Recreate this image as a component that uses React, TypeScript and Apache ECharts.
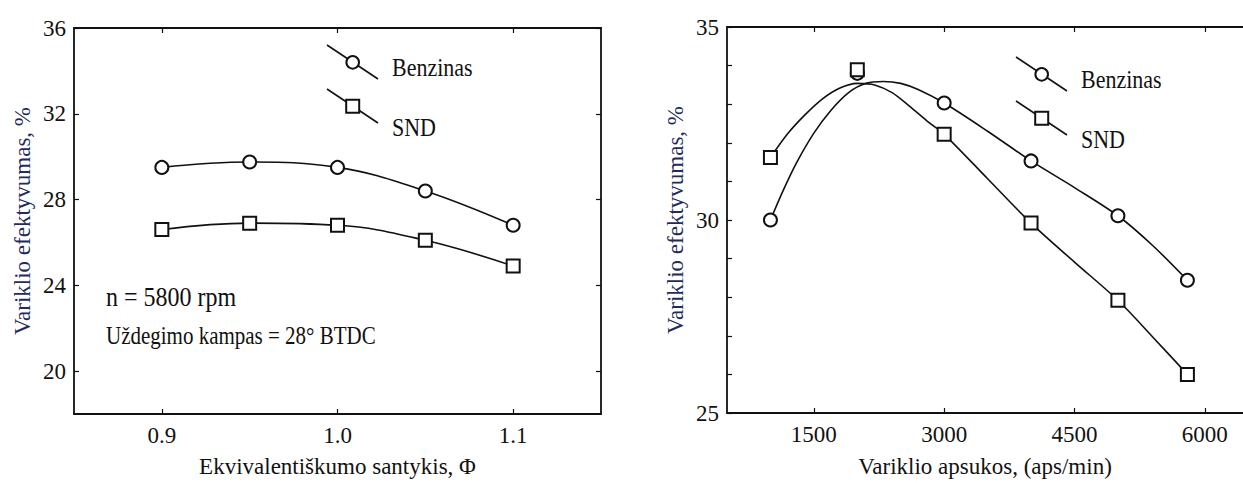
import React, { useEffect, useRef } from "react";
import * as echarts from "echarts";

// ---- Left chart data (equivalence ratio vs efficiency) ----
const phiValues = [0.9, 0.95, 1.0, 1.05, 1.1];
const benzLeft = [29.5, 29.75, 29.5, 28.4, 26.8];
const sndLeft = [26.6, 26.9, 26.8, 26.1, 24.9];
const phiTicks = [0.9, 1.0, 1.1];
const leftYTicks = [20, 24, 28, 32, 36];

// ---- Right chart data (engine speed vs efficiency) ----
const rpmValues = [1000, 2000, 3000, 4000, 5000, 5800];
const benzRight = [30.0, 33.8, 33.03, 31.53, 30.11, 28.44];
const sndRight = [31.62, 33.89, 32.22, 29.92, 27.92, 26.0];
// fitted curves
const benzFitRpm = [1000, 1150, 1300, 1500, 1700, 1900, 2100, 2300, 2500, 2700, 3000, 3500, 4000, 4500, 5000, 5400, 5800];
const benzFitVal = [30.0, 30.78, 31.48, 32.25, 32.85, 33.3, 33.54, 33.59, 33.54, 33.38, 33.03, 32.3, 31.53, 30.84, 30.11, 29.34, 28.44];
const sndFitRpm = [1000, 1200, 1400, 1600, 1800, 2000, 2200, 2400, 2600, 2800, 3000, 3500, 4000, 4500, 5000, 5400, 5800];
const sndFitVal = [31.62, 32.24, 32.73, 33.14, 33.42, 33.54, 33.5, 33.3, 32.95, 32.57, 32.22, 31.07, 29.92, 28.91, 27.92, 26.97, 26.0];
const rpmTicks = [1500, 3000, 4500, 6000];
const rightYLabels = [25, 30, 35];

const legendNames = ["Benzinas", "SND"];
const yTitle = "Variklio efektyvumas, %";
const leftXTitle = "Ekvivalentiškumo santykis, Φ";
const rightXTitle = "Variklio apsukos, (aps/min)";
const note1 = "n = 5800 rpm";
const note2 = "Uždegimo kampas = 28° BTDC";

const FONT = "'Liberation Serif', 'Times New Roman', serif";
const BLACK = "#111";
const NAVY = "#1f2d5c";

const zip = (xs: number[], ys: number[]) => xs.map((x, i) => [x, ys[i]]);

function legendGraphics(x0: number, y0: number, dy: number) {
  const els: any[] = [];
  const items = [
    { name: legendNames[0], sym: "circle" },
    { name: legendNames[1], sym: "rect" },
  ];
  items.forEach((it, i) => {
    const y = y0 + i * dy;
    els.push({
      type: "line",
      shape: { x1: x0, y1: y, x2: x0 + 51, y2: y + 34 },
      style: { stroke: BLACK, lineWidth: 1.6 },
      z: 10,
    });
    const cx = x0 + 25.7;
    const cy = y + 17.3;
    if (it.sym === "circle") {
      els.push({
        type: "circle",
        shape: { cx, cy, r: 6.3 },
        style: { fill: "#fff", stroke: BLACK, lineWidth: 2 },
        z: 11,
      });
    } else {
      els.push({
        type: "rect",
        shape: { x: cx - 6.5, y: cy - 6.5, width: 13, height: 13 },
        style: { fill: "#fff", stroke: BLACK, lineWidth: 2 },
        z: 11,
      });
    }
    els.push({
      type: "text",
      x: x0 + 65,
      y: y + (i === 0 ? 22 : 38),
      scaleY: 1.15,
      style: {
        text: it.name,
        font: `22px ${FONT}`,
        fill: BLACK,
        textVerticalAlign: "middle",
        textAlign: "left",
      },
      z: 12,
    });
  });
  return els;
}

export default function App() {
  const ref = useRef<HTMLDivElement>(null);

  useEffect(() => {
    if (!ref.current) return;
    const chart = echarts.init(ref.current, undefined, { renderer: "svg" });

    const axisLine = { show: true, lineStyle: { color: BLACK, width: 1.8 } };
    const labelStyle = { fontFamily: FONT, fontSize: 23, color: BLACK };

    const option: any = {
      animation: false,
      backgroundColor: "#fff",
      grid: [
        { left: 74, top: 28, width: 527, height: 386, containLabel: false },
        { left: 727, top: 27, width: 516, height: 388, containLabel: false },
      ],
      xAxis: [
        {
          type: "value",
          gridIndex: 0,
          position: "bottom",
          min: 0.85,
          max: 1.15,
          axisLine,
          axisTick: { show: true, inside: true, length: 5, customValues: phiTicks, lineStyle: { color: BLACK, width: 1.2 } },
          axisLabel: { ...labelStyle, margin: 10, customValues: phiTicks, formatter: (v: number) => v.toFixed(1) },
          splitLine: { show: false },
          name: leftXTitle,
          nameLocation: "middle",
          nameGap: 41,
          nameTextStyle: { fontFamily: FONT, fontSize: 23, color: BLACK },
        },
        {
          type: "value",
          gridIndex: 0,
          position: "top",
          min: 0.85,
          max: 1.15,
          axisLine,
          axisTick: { show: true, inside: true, length: 5, customValues: phiTicks, lineStyle: { color: BLACK, width: 1.2 } },
          axisLabel: { show: false },
          splitLine: { show: false },
        },
        {
          type: "value",
          gridIndex: 1,
          position: "bottom",
          min: 500,
          max: 6440,
          axisLine,
          axisTick: { show: true, inside: true, length: 5, customValues: rpmTicks, lineStyle: { color: BLACK, width: 1.2 } },
          axisLabel: { ...labelStyle, margin: 10, customValues: rpmTicks, formatter: (v: number) => String(Math.round(v)) },
          splitLine: { show: false },
          name: rightXTitle,
          nameLocation: "middle",
          nameGap: 42,
          nameTextStyle: { fontFamily: FONT, fontSize: 23, color: BLACK },
        },
        {
          type: "value",
          gridIndex: 1,
          position: "top",
          min: 500,
          max: 6440,
          axisLine,
          axisTick: { show: true, inside: true, length: 5, customValues: rpmTicks, lineStyle: { color: BLACK, width: 1.2 } },
          axisLabel: { show: false },
          splitLine: { show: false },
        },
      ],
      yAxis: [
        {
          type: "value",
          gridIndex: 0,
          position: "left",
          min: 18,
          max: 36,
          axisLine,
          axisTick: { show: true, inside: true, length: 5, customValues: leftYTicks, lineStyle: { color: BLACK, width: 1.2 } },
          axisLabel: { ...labelStyle, margin: 8, customValues: leftYTicks },
          splitLine: { show: false },
          name: yTitle,
          nameLocation: "middle",
          nameGap: 40,
          nameRotate: 90,
          nameTextStyle: { fontFamily: FONT, fontSize: 23, color: NAVY },
        },
        {
          type: "value",
          gridIndex: 0,
          position: "right",
          min: 18,
          max: 36,
          axisLine,
          axisTick: { show: true, inside: true, length: 5, customValues: leftYTicks, lineStyle: { color: BLACK, width: 1.2 } },
          axisLabel: { show: false },
          splitLine: { show: false },
        },
        {
          type: "value",
          gridIndex: 1,
          position: "left",
          min: 25,
          max: 35,
          interval: 1,
          axisLine,
          axisTick: { show: true, inside: true, length: 5, lineStyle: { color: BLACK, width: 1.2 } },
          axisLabel: { ...labelStyle, margin: 8, customValues: rightYLabels },
          splitLine: { show: false },
          name: yTitle,
          nameLocation: "middle",
          nameGap: 40,
          nameRotate: 90,
          nameTextStyle: { fontFamily: FONT, fontSize: 23, color: NAVY },
        },
      ],
      series: [
        {
          name: legendNames[0],
          type: "line",
          xAxisIndex: 0,
          yAxisIndex: 0,
          data: zip(phiValues, benzLeft),
          smooth: 0.4,
          symbol: "circle",
          symbolSize: 13,
          lineStyle: { color: BLACK, width: 1.6 },
          itemStyle: { color: "#fff", borderColor: BLACK, borderWidth: 2 },
          z: 3,
        },
        {
          name: legendNames[1],
          type: "line",
          xAxisIndex: 0,
          yAxisIndex: 0,
          data: zip(phiValues, sndLeft),
          smooth: 0.4,
          symbol: "rect",
          symbolSize: 13,
          lineStyle: { color: BLACK, width: 1.6 },
          itemStyle: { color: "#fff", borderColor: BLACK, borderWidth: 2 },
          z: 3,
        },
        {
          name: legendNames[0] + " fit",
          type: "line",
          xAxisIndex: 2,
          yAxisIndex: 2,
          data: zip(benzFitRpm, benzFitVal),
          smooth: 0.3,
          showSymbol: false,
          symbol: "none",
          lineStyle: { color: BLACK, width: 1.6 },
          z: 2,
        },
        {
          name: legendNames[1] + " fit",
          type: "line",
          xAxisIndex: 2,
          yAxisIndex: 2,
          data: zip(sndFitRpm, sndFitVal),
          smooth: 0.3,
          showSymbol: false,
          symbol: "none",
          lineStyle: { color: BLACK, width: 1.6 },
          z: 2,
        },
        {
          name: legendNames[0],
          type: "scatter",
          xAxisIndex: 2,
          yAxisIndex: 2,
          data: zip(rpmValues, benzRight),
          symbol: "circle",
          symbolSize: 13,
          itemStyle: { color: "#fff", borderColor: BLACK, borderWidth: 2, opacity: 1 },
          z: 4,
        },
        {
          name: legendNames[1],
          type: "scatter",
          xAxisIndex: 2,
          yAxisIndex: 2,
          data: zip(rpmValues, sndRight),
          symbol: "rect",
          symbolSize: 13,
          itemStyle: { color: "#fff", borderColor: BLACK, borderWidth: 2, opacity: 1 },
          z: 5,
        },
      ],
      graphic: [
        ...legendGraphics(327, 45, 44),
        ...legendGraphics(1016, 57, 44),
        {
          type: "text",
          x: 106,
          y: 297,
          scaleY: 1.15,
          style: { text: note1, font: `24px ${FONT}`, fill: BLACK, textVerticalAlign: "middle" },
          z: 12,
        },
        {
          type: "text",
          x: 106,
          y: 336,
          scaleY: 1.15,
          style: { text: note2, font: `21px ${FONT}`, fill: BLACK, textVerticalAlign: "middle" },
          z: 12,
        },
      ],
    };

    chart.setOption(option);
    return () => chart.dispose();
  }, []);

  return (
    <div
      ref={ref}
      style={{ position: "absolute", left: 0, top: 0, width: 1243, height: 483, background: "#fff" }}
    />
  );
}
